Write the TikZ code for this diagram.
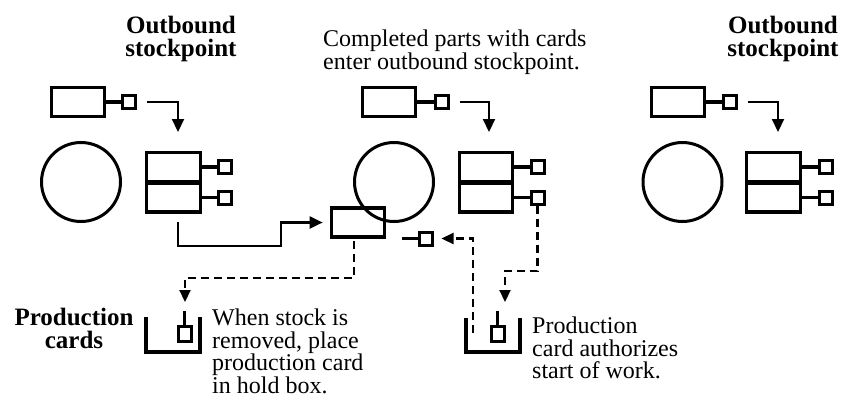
\documentclass[tikz,border=0pt]{standalone}
\usepackage{fontspec}
\setmainfont{Liberation Serif}
\usetikzlibrary{arrows.meta}

\begin{document}
\begin{tikzpicture}[x=1pt,y=-1pt,
  box/.style={draw,line width=3.2pt,minimum width=53.5pt,minimum height=29pt,inner sep=0pt},
  card/.style={draw,line width=3pt,minimum width=13pt,minimum height=13pt,inner sep=0pt},
  bin/.style={draw,circle,line width=3pt,minimum size=79pt,inner sep=0pt},
  link/.style={line width=3.4pt},
  flow/.style={line width=2.1pt,-{Triangle[length=13pt,width=12pt]}},
  kanban/.style={line width=2.2pt,dash pattern=on 8pt off 5pt,-{Triangle[length=12pt,width=11pt]}},
  hold/.style={line width=4.2pt},
  lbl/.style={inner sep=0pt,font=\fontsize{24}{22.5}\selectfont,align=left},
  head/.style={inner sep=0pt,font=\fontsize{25}{23}\selectfont\bfseries,align=center}]

\useasboundingbox (0,0) rectangle (846,402);

% left stockpoint
\node[head,anchor=north] (Lhead) at (181,16) {Outbound\\stockpoint};
\node[box]  (Ltop)  at (78,102)    {};
\node[card] (Ltopc) at (129,102)   {};
\node[bin]  (Lbin)  at (81,182)    {};
\node[box]  (Lup)   at (173.5,167) {};
\node[box]  (Llow)  at (173.5,197.5) {};
\node[card] (Lupc)  at (225,167)   {};
\node[card] (Llowc) at (225,197.5) {};
\coordinate (Lin) at (178,132);
\draw[link] (Ltop) -- (Ltopc);
\draw[link] (Lup) -- (Lupc);
\draw[link] (Llow) -- (Llowc);
\draw[flow] ([xshift=10]Ltopc.east) -| (Lin);

% middle stockpoint
\node[lbl,anchor=north west] (Mnote) at (323,30) {Completed parts with cards\\enter outbound stockpoint.};
\node[box]  (Mtop)  at (389,102)   {};
\node[card] (Mtopc) at (442,102)   {};
\node[bin]  (Mbin)  at (394,182)   {};
\node[box]  (Mup)   at (486,167)   {};
\node[box]  (Mlow)  at (486,197.5) {};
\node[card] (Mupc)  at (537.5,167) {};
\node[card] (Mlowc) at (537.5,197.5) {};
\coordinate (Min) at (489,132);
\draw[link] (Mtop) -- (Mtopc);
\draw[link] (Mup) -- (Mupc);
\draw[link] (Mlow) -- (Mlowc);
\draw[flow] ([xshift=10]Mtopc.east) -| (Min);

% right stockpoint
\node[head,anchor=north] (Rhead) at (783,16) {Outbound\\stockpoint};
\node[box]  (Rtop)  at (678,102)   {};
\node[card] (Rtopc) at (730,102)   {};
\node[bin]  (Rbin)  at (682.5,182) {};
\node[box]  (Rup)   at (773.5,167) {};
\node[box]  (Rlow)  at (773.5,197.5) {};
\node[card] (Rupc)  at (826,167)   {};
\node[card] (Rlowc) at (826,197.5) {};
\coordinate (Rin) at (778,132);
\draw[link] (Rtop) -- (Rtopc);
\draw[link] (Rup) -- (Rupc);
\draw[link] (Rlow) -- (Rlowc);
\draw[flow] ([xshift=10]Rtopc.east) -| (Rin);

% part leaving the left stockpoint, card taken off
\node[box]  (Mout)  at (358,222.5) {};
\node[card] (Mfree) at (425.5,238.5) {};
\coordinate (Mtail) at (402,238.5);
\draw[link] (Mtail) -- (Mfree);
\coordinate (Lgo)   at (178,222);
\coordinate (Lturn) at (281,246);
\draw[flow] (Lgo) |- (Lturn) |- ([xshift=-7]Mout.west);

% hold boxes
\draw[hold] (146,317) |- (200,352) -- (200,317);
\node[card,minimum height=15] (Lpc) at (184.5,334) {};
\draw[link] (Lpc.north) -- ++(0,-14);
\draw[hold] (466,318) |- (520,352) -- (520,318);
\node[card,minimum height=15] (Rpc) at (497.5,334) {};
\draw[link] (Rpc.north) -- ++(0,-14);

% card flow (dashed)
\coordinate (Mdrop) at (354,241);
\coordinate (Lslot) at (185,302);
\coordinate (Rslot) at (505,302);
\coordinate (Rpick) at (473,333);
\draw[kanban] (Mdrop) |- (185,278) -- (Lslot);
\draw[kanban] (Mlowc.south) |- (505,271) -- (Rslot);
\draw[kanban] (Rpick) |- ([xshift=8]Mfree.east);

\node[head,anchor=north] (pclbl) at (74,308) {Production\\cards};
\node[lbl,anchor=north west] (Lnote) at (212,309) {When stock is\\removed, place\\production card\\in hold box.};
\node[lbl,anchor=north west] (Rnote) at (532,317) {Production\\card authorizes\\start of work.};
\end{tikzpicture}
\end{document}
